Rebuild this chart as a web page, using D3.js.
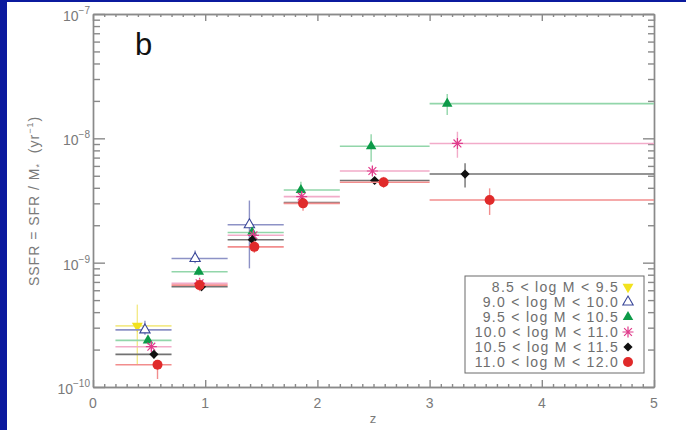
<!DOCTYPE html>
<html>
<head>
<meta charset="utf-8">
<script src="https://cdn.jsdelivr.net/npm/d3@7"></script>
<style>
  body { margin: 0; background: #fff; }
  text { font-family: "Liberation Sans", Arial, sans-serif; white-space: pre; }
</style>
</head>
<body>
<div id="chart"></div>
<script>
// redshift bins (horizontal bars)
var binLo = [0.2, 0.7, 1.2, 1.7, 2.2, 3.0],
    binHi = [0.7, 1.2, 1.7, 2.2, 3.0, 5.0];

var massLabels = ["8.5 < log M < 9.5", "9.0 < log M < 10.0", "9.5 < log M < 10.5",
                  "10.0 < log M < 11.0", "10.5 < log M < 11.5", "11.0 < log M < 12.0"];

// which bin each point belongs to
var bins1 = [0],
    bins2 = [0, 1, 2],
    bins3 = [0, 1, 2, 3, 4, 5],
    bins4 = [0, 1, 2, 3, 4, 5],
    bins5 = [0, 1, 2, 3, 4, 5],
    bins6 = [0, 1, 2, 3, 4, 5];

// mean z of each point
var z1 = [0.395],
    z2 = [0.463, 0.91, 1.394],
    z3 = [0.49, 0.943, 1.418, 1.853, 2.479, 3.157],
    z4 = [0.52, 0.95, 1.43, 1.86, 2.49, 3.248],
    z5 = [0.543, 0.967, 1.42, 1.865, 2.51, 3.316],
    z6 = [0.575, 0.95, 1.438, 1.872, 2.59, 3.535];

// SSFR (yr^-1)
var ssfr1 = [3.1e-10],
    ssfr2 = [2.88e-10, 1.08e-9, 2.02e-9],
    ssfr3 = [2.37e-10, 8.45e-10, 1.75e-9, 3.84e-9, 8.63e-9, 1.90e-8],
    ssfr4 = [2.11e-10, 6.82e-10, 1.66e-9, 3.40e-9, 5.46e-9, 9.1e-9],
    ssfr5 = [1.83e-10, 6.41e-10, 1.53e-9, 3.04e-9, 4.58e-9, 5.16e-9],
    ssfr6 = [1.51e-10, 6.6e-10, 1.34e-9, 3.0e-9, 4.44e-9, 3.19e-9];

// error bar limits
var lo1 = [1.5e-10],
    hi1 = [4.6e-10],
    lo2 = [2.63e-10, 9.9e-10, 9.0e-10],
    hi2 = [3.41e-10, 1.25e-9, 3.16e-9],
    lo3 = [2.2e-10, 7.9e-10, 1.6e-9, 3.3e-9, 6.49e-9, 1.54e-8],
    hi3 = [2.5e-10, 9.0e-10, 1.9e-9, 4.48e-9, 1.08e-8, 2.27e-8],
    lo4 = [1.95e-10, 6.3e-10, 1.55e-9, 3.15e-9, 5.0e-9, 6.98e-9],
    hi4 = [2.3e-10, 7.5e-10, 1.8e-9, 3.7e-9, 6.0e-9, 1.13e-8],
    lo5 = [1.7e-10, 5.9e-10, 1.45e-9, 2.85e-9, 4.3e-9, 4.03e-9],
    hi5 = [1.96e-10, 6.9e-10, 1.65e-9, 3.25e-9, 4.9e-9, 6.3e-9],
    lo6 = [1.16e-10, 5.9e-10, 1.2e-9, 2.62e-9, 4.0e-9, 2.42e-9],
    hi6 = [1.65e-10, 7.4e-10, 1.5e-9, 3.25e-9, 4.9e-9, 3.96e-9];

var series = [
  {bins: bins1, z: z1, v: ssfr1, lo: lo1, hi: hi1},
  {bins: bins2, z: z2, v: ssfr2, lo: lo2, hi: hi2},
  {bins: bins3, z: z3, v: ssfr3, lo: lo3, hi: hi3},
  {bins: bins4, z: z4, v: ssfr4, lo: lo4, hi: hi4},
  {bins: bins5, z: z5, v: ssfr5, lo: lo5, hi: hi5},
  {bins: bins6, z: z6, v: ssfr6, lo: lo6, hi: hi6}
];

var xTicks = [0, 1, 2, 3, 4, 5],
    yTicks = [1e-10, 1e-9, 1e-8, 1e-7],
    yExp = ["−10", "−9", "−8", "−7"];

// styles
var markColor = ["#f2e21e", "#3a4799", "#0c9a48", "#e03c8c", "#111111", "#e02a2a"],
    lineColor = ["#f3ea8a", "#8d92c6", "#92d6aa", "#f2abc9", "#727272", "#f28d8d"];

var W = 686, H = 430;
var x = d3.scaleLinear().domain([0, 5]).range([93, 654]);
var y = d3.scaleLog().domain([1e-10, 1e-7]).range([387, 14]);

var svg = d3.select("#chart").append("svg")
    .attr("width", W).attr("height", H);

svg.append("rect").attr("width", W).attr("height", H).attr("fill", "#fff");
// blue frame of the slide
svg.append("rect").attr("x", 0).attr("y", 0).attr("width", 7).attr("height", H).attr("fill", "#0b1a9e");
svg.append("rect").attr("x", 0).attr("y", 0).attr("width", W).attr("height", 2).attr("fill", "#0b1a9e");

// minor ticks
var xMinor = d3.range(0, 50).map(function(i) { return i / 10; }).filter(function(d) { return d % 1 !== 0; });
var yMinor = [];
[-10, -9, -8].forEach(function(e) {
  for (var m = 2; m <= 9; m++) yMinor.push(m * Math.pow(10, e));
});

function styleAxis(g) {
  g.selectAll("path,line").attr("stroke", "#8a8a8a").attr("stroke-width", 1.4);
  g.selectAll("text").remove();
}

svg.append("g").attr("transform", "translate(0,387)")
  .call(d3.axisBottom(x).tickValues(xMinor).tickSize(-3).tickSizeOuter(0)).call(styleAxis);
svg.append("g").attr("transform", "translate(0,387)")
  .call(d3.axisBottom(x).tickValues(xTicks).tickSize(-7).tickSizeOuter(0)).call(styleAxis);
svg.append("g").attr("transform", "translate(0,14)")
  .call(d3.axisTop(x).tickValues(xMinor).tickSize(-3).tickSizeOuter(0)).call(styleAxis);
svg.append("g").attr("transform", "translate(0,14)")
  .call(d3.axisTop(x).tickValues(xTicks).tickSize(-7).tickSizeOuter(0)).call(styleAxis);
svg.append("g").attr("transform", "translate(93,0)")
  .call(d3.axisLeft(y).tickValues(yMinor).tickSize(-7).tickSizeOuter(0)).call(styleAxis);
svg.append("g").attr("transform", "translate(93,0)")
  .call(d3.axisLeft(y).tickValues(yTicks).tickSize(-12).tickSizeOuter(0)).call(styleAxis);
svg.append("g").attr("transform", "translate(654,0)")
  .call(d3.axisRight(y).tickValues(yMinor).tickSize(-6).tickSizeOuter(0)).call(styleAxis);
svg.append("g").attr("transform", "translate(654,0)")
  .call(d3.axisRight(y).tickValues(yTicks).tickSize(-11).tickSizeOuter(0)).call(styleAxis);

// tick labels
svg.selectAll(".xlab").data(xTicks).enter().append("text")
  .attr("x", function(d) { return x(d); })
  .attr("y", 408)
  .attr("text-anchor", "middle")
  .attr("font-size", 14)
  .attr("fill", "#7a7a7a")
  .text(function(d) { return d; });

var yl = svg.selectAll(".ylab").data(yTicks).enter().append("text")
  .attr("x", 90)
  .attr("y", function(d) { return y(d) + 7; })
  .attr("text-anchor", "end")
  .attr("font-size", 14)
  .attr("fill", "#7a7a7a");
yl.append("tspan").text("10");
yl.append("tspan").attr("dy", -7).attr("font-size", 10)
  .text(function(d, i) { return yExp[i]; });

// axis titles
svg.append("text").attr("x", 373).attr("y", 423)
  .attr("text-anchor", "middle").attr("font-size", 13).attr("fill", "#7a7a7a").text("z");

var yt = svg.append("text")
  .attr("transform", "translate(39,201) rotate(-90)")
  .attr("text-anchor", "middle").attr("font-size", 14).attr("fill", "#7a7a7a")
  .attr("letter-spacing", 1);
yt.append("tspan").text("SSFR = SFR / M");
yt.append("tspan").attr("dy", 3).attr("font-size", 9).text("*");
yt.append("tspan").attr("dy", -3).text("  (yr");
yt.append("tspan").attr("dy", -6).attr("font-size", 9).text("−1");
yt.append("tspan").attr("dy", 6).text(")");

svg.append("text").attr("x", 135).attr("y", 55)
  .attr("font-size", 31).attr("fill", "#111").text("b");

// markers
var asterisk = "M0,-5.5V5.5M-5.5,0H5.5M-3.9,-3.9L3.9,3.9M-3.9,3.9L3.9,-3.9";
var diamond = "M0,-4.6L4.6,0L0,4.6L-4.6,0Z";
function drawMarker(g, i) {
  if (i === 0) {
    g.append("path").attr("d", d3.symbol(d3.symbolTriangle, 52)())
      .attr("transform", "rotate(180)").attr("fill", markColor[i]);
  } else if (i === 1) {
    g.append("path").attr("d", d3.symbol(d3.symbolTriangle, 46)())
      .attr("fill", "#fff").attr("stroke", markColor[i]).attr("stroke-width", 1.1);
  } else if (i === 2) {
    g.append("path").attr("d", d3.symbol(d3.symbolTriangle, 48)()).attr("fill", markColor[i]);
  } else if (i === 3) {
    g.append("path").attr("d", asterisk).attr("fill", "none")
      .attr("stroke", markColor[i]).attr("stroke-width", 1.2);
  } else if (i === 4) {
    g.append("path").attr("d", diamond).attr("fill", markColor[i]);
  } else {
    g.append("circle").attr("r", 5).attr("fill", markColor[i]);
  }
}

series.forEach(function(s, i) {
  var g = svg.append("g");
  var pts = s.z.map(function(d, j) {
    return {z: d, v: s.v[j], lo: s.lo[j], hi: s.hi[j], b: s.bins[j]};
  });
  g.selectAll(".hbar").data(pts).enter().append("line")
    .attr("x1", function(d) { return x(binLo[d.b]); })
    .attr("x2", function(d) { return x(binHi[d.b]); })
    .attr("y1", function(d) { return y(d.v); })
    .attr("y2", function(d) { return y(d.v); })
    .attr("stroke", lineColor[i]).attr("stroke-width", 1.6);
  g.selectAll(".vbar").data(pts).enter().append("line")
    .attr("x1", function(d) { return x(d.z); })
    .attr("x2", function(d) { return x(d.z); })
    .attr("y1", function(d) { return y(d.lo); })
    .attr("y2", function(d) { return y(d.hi); })
    .attr("stroke", lineColor[i]).attr("stroke-width", 1.4);
  g.selectAll(".mk").data(pts).enter().append("g")
    .attr("transform", function(d) { return "translate(" + x(d.z) + "," + y(d.v) + ")"; })
    .each(function() { drawMarker(d3.select(this), i); });
});

// legend
var leg = svg.append("g");
leg.append("rect").attr("x", 465).attr("y", 276).attr("width", 179).attr("height", 97)
  .attr("fill", "#fff").attr("stroke", "#6a6a6a").attr("stroke-width", 1);
massLabels.forEach(function(t, i) {
  var yy = 287 + i * 15;
  leg.append("text").attr("x", 619).attr("y", yy + 5)
    .attr("text-anchor", "end").attr("font-size", 14).attr("fill", "#6e6e6e")
    .attr("letter-spacing", 1.3).text(t);
  var m = leg.append("g").attr("transform", "translate(628," + yy + ")");
  drawMarker(m, i);
});
</script>
</body>
</html>
